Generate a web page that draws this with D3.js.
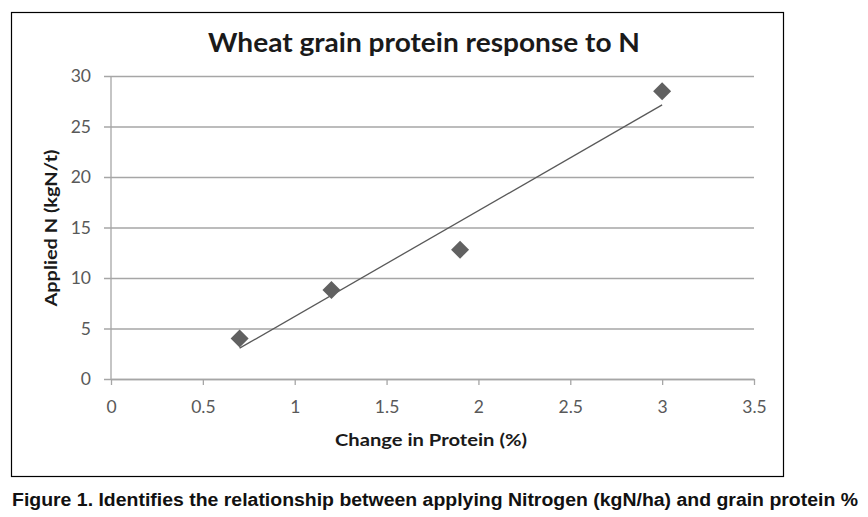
<!DOCTYPE html>
<html>
<head>
<meta charset="utf-8">
<script src="https://cdn.jsdelivr.net/npm/d3@7"></script>
<style>
  body { margin: 0; background: #fff; }
  svg { display: block; }
</style>
</head>
<body>
<script>
// data
let protein = [0.7, 1.2, 1.9, 3.0];
let appliedN = [4.0, 8.8, 12.8, 28.5];
let xTicks = [0, 0.5, 1, 1.5, 2, 2.5, 3, 3.5];
let yTicks = [0, 5, 10, 15, 20, 25, 30];

let svgWidth = 868;
let svgHeight = 517;
let plot = {left: 111, right: 754, top: 76, bottom: 379};

let svg = d3.select("body")
    .append("svg")
    .attr("width", svgWidth)
    .attr("height", svgHeight);

svg.append("rect")
    .attr("width", svgWidth)
    .attr("height", svgHeight)
    .attr("fill", "#fff");

// chart frame
svg.append("rect")
    .attr("x", 11.5)
    .attr("y", 12.5)
    .attr("width", 772)
    .attr("height", 464)
    .attr("fill", "#fff")
    .attr("stroke", "#000")
    .attr("stroke-width", 1.2);

let xScale = d3.scaleLinear().domain([0, 3.5]).range([plot.left, plot.right]);
let yScale = d3.scaleLinear().domain([0, 30]).range([plot.bottom, plot.top]);

let font = "Lato, 'Open Sans', sans-serif";
let tickColor = "#595959";

// y gridlines + labels
let yAxis = d3.axisLeft(yScale)
    .tickValues(yTicks)
    .tickSize(-(plot.right - plot.left))
    .tickSizeOuter(0)
    .tickPadding(20);

let yG = svg.append("g")
    .attr("transform", `translate(${plot.left}, 0)`)
    .call(yAxis);
yG.select(".domain").remove();
yG.selectAll(".tick line")
    .attr("x1", -7)
    .attr("stroke", "#a6a6a6")
    .attr("stroke-width", 1.3);
yG.selectAll(".tick text")
    .attr("fill", tickColor)
    .style("font-family", font)
    .style("font-size", "17.5px");

// x axis
let xAxis = d3.axisBottom(xScale)
    .tickValues(xTicks)
    .tickFormat(d3.format("~g"))
    .tickSize(6)
    .tickSizeOuter(0)
    .tickPadding(16);

let xG = svg.append("g")
    .attr("transform", `translate(0, ${plot.bottom})`)
    .call(xAxis);
xG.select(".domain")
    .attr("stroke", "#a6a6a6")
    .attr("stroke-width", 1.3);
xG.selectAll(".tick line")
    .attr("stroke", "#a6a6a6")
    .attr("stroke-width", 1.3);
xG.selectAll(".tick text")
    .attr("fill", tickColor)
    .style("font-family", font)
    .style("font-size", "17.5px");

// y axis line
svg.append("line")
    .attr("x1", plot.left).attr("x2", plot.left)
    .attr("y1", plot.top).attr("y2", plot.bottom)
    .attr("stroke", "#a6a6a6")
    .attr("stroke-width", 1.3);

// linear trendline (least squares from the points)
let mx = d3.mean(protein), my = d3.mean(appliedN);
let sxy = d3.sum(protein, (x, i) => (x - mx) * (appliedN[i] - my));
let sxx = d3.sum(protein, x => (x - mx) * (x - mx));
let slope = sxy / sxx;
let icpt = my - slope * mx;
let xExt = d3.extent(protein);

svg.append("line")
    .attr("x1", xScale(xExt[0]))
    .attr("y1", yScale(icpt + slope * xExt[0]))
    .attr("x2", xScale(xExt[1]))
    .attr("y2", yScale(icpt + slope * xExt[1]))
    .attr("stroke", "#595959")
    .attr("stroke-width", 1.3);

// diamond markers
let pts = protein.map((x, i) => ({x: x, y: appliedN[i]}));
svg.selectAll(".pt")
    .data(pts)
    .enter()
    .append("path")
    .attr("class", "pt")
    .attr("transform", d => `translate(${xScale(d.x)}, ${yScale(d.y)})`)
    .attr("d", "M0,-9L9,0L0,9L-9,0Z")
    .attr("fill", "#616161");

// title
svg.append("text")
    .attr("x", 424)
    .attr("y", 52)
    .attr("text-anchor", "middle")
    .attr("textLength", 432)
    .attr("lengthAdjust", "spacingAndGlyphs")
    .style("font-family", font)
    .style("font-weight", "bold")
    .style("font-size", "26px")
    .attr("fill", "#1a1a1a")
    .text("Wheat grain protein response to N");

// axis titles
svg.append("text")
    .attr("x", 431)
    .attr("y", 446)
    .attr("text-anchor", "middle")
    .attr("textLength", 192)
    .attr("lengthAdjust", "spacingAndGlyphs")
    .style("font-family", font)
    .style("font-weight", "bold")
    .style("font-size", "17px")
    .attr("fill", "#1a1a1a")
    .text("Change in Protein (%)");

svg.append("text")
    .attr("transform", "translate(57, 228) rotate(-90)")
    .attr("text-anchor", "middle")
    .attr("textLength", 157)
    .attr("lengthAdjust", "spacingAndGlyphs")
    .style("font-family", font)
    .style("font-weight", "bold")
    .style("font-size", "17px")
    .attr("fill", "#1a1a1a")
    .text("Applied N (kgN/t)");

// caption
svg.append("text")
    .attr("x", 12)
    .attr("y", 506)
    .attr("textLength", 846)
    .attr("lengthAdjust", "spacingAndGlyphs")
    .style("font-family", "'Liberation Sans', Arial, sans-serif")
    .style("font-weight", "bold")
    .style("font-size", "18px")
    .attr("fill", "#111")
    .text("Figure 1. Identifies the relationship between applying Nitrogen (kgN/ha) and grain protein %");
</script>
</body>
</html>
